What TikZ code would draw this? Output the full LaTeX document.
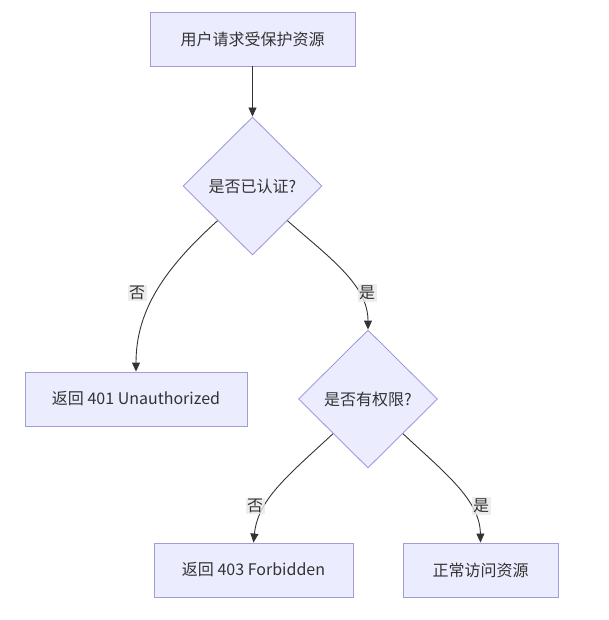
\documentclass[tikz,border=0pt]{standalone}
\usepackage{fontspec}
\setmainfont{Noto Sans CJK SC}
\usetikzlibrary{shapes.geometric,arrows.meta}
\definecolor{nodefill}{HTML}{ECECFF}
\definecolor{nodeline}{HTML}{A49CD6}
\definecolor{edgecol}{HTML}{333333}
\definecolor{lblbg}{HTML}{E8E8E8}
\begin{document}
\begin{tikzpicture}[x=1pt,y=1pt,
  every node/.style={font=\fontsize{16}{19}\selectfont, text=edgecol},
  boxnode/.style={draw=nodeline, fill=nodefill, line width=0.9pt, inner sep=0pt, minimum height=54pt},
  decnode/.style={diamond, draw=nodeline, fill=nodefill, line width=0.9pt, inner sep=0pt, minimum width=139pt, minimum height=138pt},
  edge/.style={draw=edgecol, line width=0.9pt, -{Triangle[length=9pt,width=8pt]}},
  lbl/.style={fill=lblbg, fill opacity=0.8, text opacity=1, inner sep=1.5pt}
]
\useasboundingbox (0,0) rectangle (609,-620);
\node[boxnode, minimum width=205pt] (start) at (252.5,-39) {用户请求受保护资源};
\node[decnode] (auth) at (252.5,-186) {是否已认证?};
\node[boxnode, minimum width=222pt] (r401) at (136,-399) {返回 401 Unauthorized};
\node[decnode] (perm) at (368,-399) {是否有权限?};
\node[boxnode, minimum width=199pt] (r403) at (253.5,-570) {返回 403 Forbidden};
\node[boxnode, minimum width=155pt] (ok) at (480.5,-570) {正常访问资源};

\draw[edge] (start.south) -- (auth.north);
\draw[edge] (auth.south west) .. controls (165,-268) and (136,-310) .. (r401.north);
\draw[edge] (auth.south east) .. controls (330,-258) and (368,-285) .. (perm.north);
\draw[edge] (perm.south west) .. controls (285,-478) and (258,-500) .. (r403.north);
\draw[edge] (perm.south east) .. controls (445,-473) and (480,-500) .. (ok.north);

\node[lbl] (l1) at (137,-293) {否};
\node[lbl] (l2) at (367,-293) {是};
\node[lbl] (l3) at (255,-506) {否};
\node[lbl] (l4) at (481,-506) {是};
\end{tikzpicture}
\end{document}
